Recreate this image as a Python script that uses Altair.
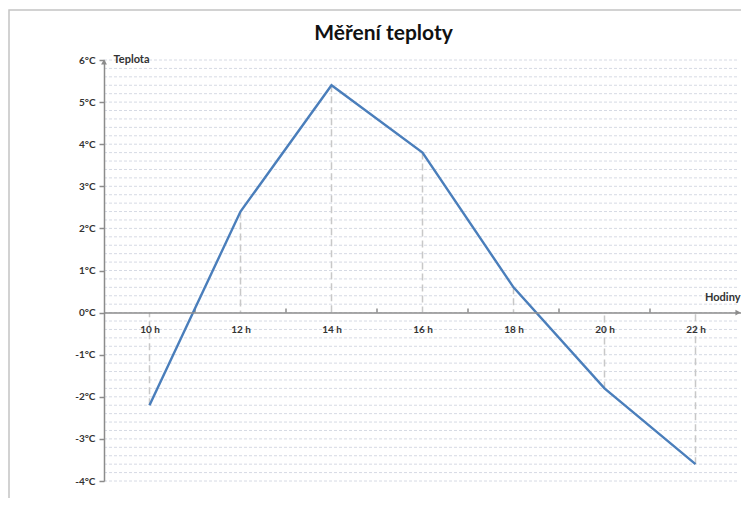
import altair as alt
import pandas as pd

hours = [10, 12, 14, 16, 18, 20, 22]
hour_labels = ["10 h", "12 h", "14 h", "16 h", "18 h", "20 h", "22 h"]
temps = [-2.2, 2.4, 5.4, 3.8, 0.6, -1.8, -3.6]
y_ticks = [-4, -3, -2, -1, 0, 1, 2, 3, 4, 5, 6]
grid_values = [round(-4 + 0.2 * i, 1) for i in range(51)]
odd_hours = [11, 13, 15, 17, 19, 21]
title_text = "Měření teploty"

W, H = 637, 421
X_DOM = [9, 23]
Y_DOM = [-4, 6]
FONT = "Lato"

df = pd.DataFrame({"hour": hours, "label": hour_labels, "temp": temps})
grid_df = pd.DataFrame({"g": grid_values})
tick_df = pd.DataFrame({"h": odd_hours})

xs = alt.Scale(domain=X_DOM, nice=False, zero=False)
ys = alt.Scale(domain=Y_DOM, nice=False, zero=False)

label_map = "{" + ",".join(f"'{h}':'{l}'" for h, l in zip(hours, hour_labels)) + "}"

xaxis = alt.Axis(
    values=hours, labelExpr=f"{label_map}[datum.value]",
    offset=-H * (0 - Y_DOM[0]) / (Y_DOM[1] - Y_DOM[0]),
    domainColor="#8c8c8c", domainWidth=1.5, ticks=False,
    labelPadding=12, labelFont=FONT, labelFontSize=10, labelFontWeight="bold",
    labelColor="#333333", zindex=2,
    title="Hodiny", titleX=W - 1, titleY=-15, titleAlign="right",
    titleBaseline="middle", titleFont=FONT, titleFontSize=11,
    titleFontWeight="bold", titleColor="#333333", grid=False,
)
yaxis = alt.Axis(
    values=y_ticks, labelExpr="datum.value + '°C'",
    domainColor="#8c8c8c", domainWidth=1.5,
    tickColor="#8c8c8c", tickSize=5, tickWidth=1.5,
    labelPadding=4, labelFont=FONT, labelFontSize=10, labelFontWeight="bold",
    labelColor="#333333", zindex=2,
    title="Teplota", titleAngle=0, titleX=9, titleY=-1, titleAlign="left",
    titleBaseline="middle", titleFont=FONT, titleFontSize=11,
    titleFontWeight="bold", titleColor="#333333", grid=False,
)

border = alt.Chart(pd.DataFrame({"a": [0]})).mark_rect(
    fillOpacity=0, fill="white", stroke="#c4c4c4", strokeWidth=1.5
).encode(
    x=alt.value(-95), x2=alt.value(700), y=alt.value(-50), y2=alt.value(500)
)

title = alt.Chart(pd.DataFrame({"t": [title_text]})).mark_text(
    font=FONT, fontSize=21, fontWeight="bold", color="#111111",
    align="center", baseline="middle",
).encode(text="t:N", x=alt.value(W / 2 - 39), y=alt.value(-26))

grid = alt.Chart(grid_df).mark_rule(
    stroke="#d6dae4", strokeWidth=1, strokeDash=[3, 2]
).encode(
    y=alt.Y("g:Q", scale=ys, axis=yaxis),
    x=alt.value(0), x2=alt.value(W - 2),
)

drops = alt.Chart(df).mark_rule(
    stroke="#c8c8c8", strokeWidth=1.5, strokeDash=[7, 4]
).encode(
    x=alt.X("hour:Q", scale=xs, axis=xaxis),
    y=alt.Y("temp:Q", scale=ys, axis=yaxis),
    y2=alt.datum(0),
)

xticks = alt.Chart(tick_df).mark_rule(stroke="#8c8c8c", strokeWidth=1.5).encode(
    x=alt.X("h:Q", scale=xs, axis=xaxis),
    y=alt.datum(0),
    y2=alt.datum(0.1),
)

arrow_y = alt.Chart(pd.DataFrame({"x": [X_DOM[0]], "y": [Y_DOM[1]]})).mark_point(
    filled=True, color="#8c8c8c", size=35, opacity=1, shape="triangle-up", yOffset=2
).encode(
    x=alt.X("x:Q", scale=xs, axis=xaxis),
    y=alt.Y("y:Q", scale=ys, axis=yaxis),
)

arrow_x = alt.Chart(pd.DataFrame({"x": [X_DOM[1]], "y": [0]})).mark_point(
    filled=True, color="#8c8c8c", size=35, opacity=1, shape="triangle-right", xOffset=-3
).encode(
    x=alt.X("x:Q", scale=xs, axis=xaxis),
    y=alt.Y("y:Q", scale=ys, axis=yaxis),
)

line = alt.Chart(df).mark_line(color="#4a7ebb", strokeWidth=2.4).encode(
    x=alt.X("hour:Q", scale=xs, axis=xaxis),
    y=alt.Y("temp:Q", scale=ys, axis=yaxis),
)

chart = alt.layer(border, title, grid, drops, xticks, line, arrow_y, arrow_x).properties(
    width=W, height=H,
    autosize=alt.AutoSizeParams(type="none"),
    padding={"left": 96, "top": 52, "right": 0, "bottom": 17},
    background="white",
).configure_view(strokeWidth=0, strokeOpacity=0)

chart.save("out.html", embed_options={"renderer": "svg", "actions": False})
